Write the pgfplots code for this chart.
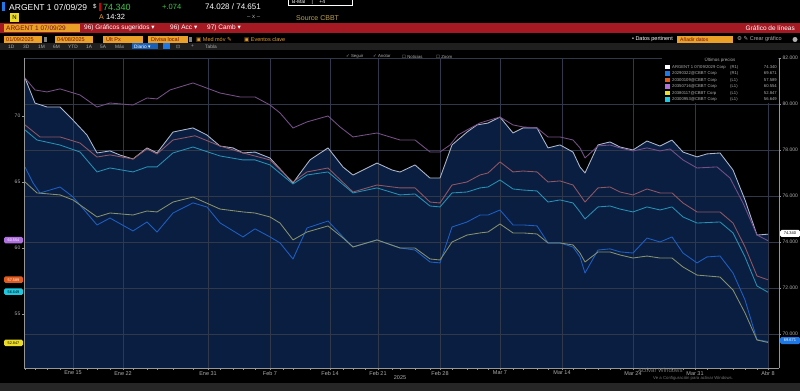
\documentclass[border=0pt]{standalone}
\usepackage{pgfplots}
\pgfplotsset{compat=1.18}
\usepackage{fontspec}
\setmainfont{Liberation Sans}
\newfontfamily\sym{DejaVu Sans}
\newcommand\fs[1]{\fontsize{#1}{#1}\selectfont}
\definecolor{navy}{RGB}{10,30,66}
\definecolor{cwhite}{RGB}{175,185,205}
\definecolor{cblue}{RGB}{30,95,195}
\definecolor{corange}{RGB}{145,88,100}
\definecolor{cpurple}{RGB}{118,80,135}
\definecolor{cyellow}{RGB}{135,145,110}
\definecolor{ccyan}{RGB}{38,145,178}
\definecolor{gridc}{RGB}{48,56,74}
\definecolor{axc}{RGB}{150,150,150}
\definecolor{labc}{RGB}{175,175,175}
\definecolor{bbred}{RGB}{165,25,35}
\definecolor{bbor}{RGB}{235,160,40}
\definecolor{bbgreen}{RGB}{60,200,70}
\definecolor{khaki}{RGB}{190,160,80}
\definecolor{tpurple}{RGB}{176,112,224}
\definecolor{torange}{RGB}{225,90,30}
\definecolor{tcyan}{RGB}{30,200,225}
\definecolor{tyellow}{RGB}{235,220,40}
\definecolor{tblue}{RGB}{30,120,230}
\newcommand\tx[5]{\node[anchor=#1,inner sep=0,text=#2,font=\fs{#3}] at (#4) {#5};}
\pgfplotsset{base/.style={at={(24pt,23pt)}, anchor=south west, scale only axis,
  width=755pt, height=310pt, xmin=24, xmax=779}}
\begin{document}
\begin{tikzpicture}[x=1pt,y=1pt]
\fill[black] (0,0) rectangle (800,391);
% ---- header row 1
\fill[tblue] (2,380) rectangle (5,389);
\tx{west}{white}{8.5}{9,384}{ARGENT 1 07/09/29}
\tx{west}{white}{6}{93,385}{\$}
\fill[red!80!black] (99,380) rectangle (100.5,388);
\tx{west}{bbgreen}{9}{103,384}{74.340}
\tx{west}{bbgreen}{7.5}{162,384}{+.074}
\tx{west}{white}{8}{205,384}{74.028 / 74.651}
\draw[white,line width=0.5pt] (288,386) rectangle (352,392);
\tx{west}{white}{5}{292,388.5}{B-Mal \quad | \quad +4}
% ---- header row 2
\fill[tyellow] (10,369) rectangle (19,378);
\tx{center}{black}{6}{14.5,373.5}{N}
\tx{west}{bbor}{7}{99,374}{A}
\tx{west}{white}{7.5}{106,374}{14:32}
\tx{west}{labc}{6}{247,374}{-- x --}
\tx{west}{khaki}{7}{296,373}{Source CBBT}
% ---- red bar
\fill[bbred] (0,358) rectangle (800,368);
\fill[bbor] (4,359) rectangle (80,367);
\tx{west}{bbred!70!black}{6.5}{6,363}{ARGENT 1 07/09/29}
\tx{west}{white}{6.5}{84,363}{96) Gráficos sugeridos {\sym ▾}}
\tx{west}{white}{6.5}{170,363}{96) Acc {\sym ▾}}
\tx{west}{white}{6.5}{207,363}{97) Camb {\sym ▾}}
\tx{east}{white}{6.5}{795,363}{Gráfico de líneas}
% ---- row 4
\fill[bbor] (4,348) rectangle (42,355);
\tx{west}{bbred!70!black}{5.5}{6,351.5}{01/09/2025}
\fill[gray] (43.5,349) rectangle (47,354);
\fill[bbor] (55,348) rectangle (93,355);
\tx{west}{bbred!70!black}{5.5}{57,351.5}{04/08/2025}
\fill[bbor] (103,348) rectangle (143,355);
\tx{west}{bbred!70!black}{5.5}{106,351.5}{Últ Px}
\fill[bbor] (148,348) rectangle (188,355);
\tx{west}{bbred!70!black}{5.5}{151,351.5}{Divisa local}
\fill[gray] (189,349) rectangle (192,354);
\tx{west}{bbor}{5.5}{196,351.5}{{\sym ▣} Med móv {\sym ✎}}
\tx{west}{bbor}{5.5}{244,351.5}{{\sym ▣} Eventos clave}
\tx{east}{white}{5.5}{673,351.5}{• Datos pertinent}
\fill[bbor] (677,348) rectangle (733,355);
\tx{west}{bbred!70!black}{5}{680,351.5}{Añadir datos}
\tx{west}{labc}{5.5}{737,351.5}{{\sym ⚙} {\sym ✎} Crear gráfico}
\fill[labc] (795,351.5) circle (2.5);
% ---- row 5
\fill[black!88!white] (0,341) rectangle (800,348);
\foreach \xx/\ll in {8/1D,23/3D,38/1M,53/6M,68/YTD,86/1A,100/5A,115/Máx}{\tx{west}{labc}{4.8}{\xx,344.5}{\ll}}
\fill[tblue!80!black] (132,341.5) rectangle (158,347.5);
\tx{west}{white}{4.8}{134,344.5}{Diario {\sym ▾}}
\fill[tblue] (163,341.5) rectangle (170,347.5);
\tx{west}{labc}{4.8}{176,344.5}{{\sym ⊡}}
\tx{west}{labc}{4.8}{191,344.5}{+}
\tx{west}{labc}{4.8}{205,344.5}{Tabla}
% ---- row 6
\tx{west}{labc}{4.3}{346,334.5}{{\sym ✓} Seguir}
\tx{west}{labc}{4.3}{373,334.5}{{\sym ✓} Anotar}
\tx{west}{labc}{4.3}{402,334.5}{{\sym ☐} Noticias}
\tx{west}{labc}{4.3}{436,334.5}{{\sym ☐} Zoom}
% ---- bottom strip
\fill[black!85!white] (0,0) rectangle (800,8);

% ===== axis A: fill under ARGENT
\begin{axis}[base, ymin=68.52, ymax=82, hide axis]
\addplot[fill=navy, draw=none] coordinates {(25,68.52) (25,81.13) (35,80.04) (47,79.87) (60,79.87) (73,79.30) (87,78.65) (97,77.87) (110,77.96) (120,77.78) (133,77.61) (147,78.09) (157,77.87) (173,78.78) (193,78.96) (207,78.65) (220,78.17) (233,78.09) (243,77.87) (255,77.91) (270,77.65) (293,76.57) (310,77.57) (328,78.09) (343,77.26) (353,76.91) (377,77.43) (392,77.13) (400,77.04) (415,77.35) (430,76.78) (440,76.78) (452,78.22) (467,78.78) (477,79.09) (488,79.17) (500,79.43) (513,78.74) (523,78.96) (537,78.96) (548,78.09) (560,78.22) (573,77.91) (580,77.26) (585,77.00) (598,78.22) (610,78.35) (620,78.13) (633,78.00) (647,78.39) (660,78.17) (672,78.43) (683,77.91) (697,77.70) (707,77.83) (720,77.87) (733,77.13) (745,75.83) (757,74.30) (768,74.34) (768,68.52)} -- cycle;
\end{axis}

% ===== axis B: right axis R1
\begin{axis}[base, ymin=68.52, ymax=82,
  axis x line*=bottom, axis y line*=right,
  xtick={73,123,208,270,330,378,440,500,562,633,695,768},
  xticklabels={Ene 15,Ene 22,Ene 31,Feb 7,Feb 14,Feb 21,Feb 28,Mar 7,Mar 14,Mar 24,Mar 31,Abr 8},
  minor xtick={25,35,47,60,87,97,110,133,147,157,173,193,220,233,243,255,283,293,310,343,353,365,392,400,415,430,452,467,477,488,513,523,537,548,573,585,598,610,620,647,660,672,683,707,720,733,745,757},
  ytick={70,72,74,76,78,80,82},
  yticklabels={70.000,72.000,74.000,76.000,78.000,80.000,82.000},
  grid=major, grid style={gridc, line width=0.4pt},
  axis line style={axc, line width=0.5pt},
  tick style={axc, line width=0.4pt}, tick align=outside,
  major tick length=2pt, minor tick length=1.5pt,
  xticklabel style={font=\fs{5.5}, text=labc, inner sep=1pt},
  yticklabel style={font=\fs{5}, text=labc, inner sep=1.5pt}]
\addplot[cwhite, line width=0.85pt, line join=round] coordinates {(25,81.13) (35,80.04) (47,79.87) (60,79.87) (73,79.30) (87,78.65) (97,77.87) (110,77.96) (120,77.78) (133,77.61) (147,78.09) (157,77.87) (173,78.78) (193,78.96) (207,78.65) (220,78.17) (233,78.09) (243,77.87) (255,77.91) (270,77.65) (293,76.57) (310,77.57) (328,78.09) (343,77.26) (353,76.91) (377,77.43) (392,77.13) (400,77.04) (415,77.35) (430,76.78) (440,76.78) (452,78.22) (467,78.78) (477,79.09) (488,79.17) (500,79.43) (513,78.74) (523,78.96) (537,78.96) (548,78.09) (560,78.22) (573,77.91) (580,77.26) (585,77.00) (598,78.22) (610,78.35) (620,78.13) (633,78.00) (647,78.39) (660,78.17) (672,78.43) (683,77.91) (697,77.70) (707,77.83) (720,77.87) (733,77.13) (745,75.83) (757,74.30) (768,74.34)};
\addplot[cblue, line width=0.85pt, line join=round] coordinates {(25,77.26) (33,76.57) (40,76.13) (60,76.39) (73,75.96) (97,74.74) (110,75.04) (133,74.48) (147,74.87) (157,74.43) (173,75.26) (193,75.70) (207,75.52) (220,74.83) (243,74.22) (255,74.57) (270,74.22) (280,73.96) (293,73.26) (307,74.61) (328,74.91) (343,74.22) (353,73.78) (377,74.09) (400,73.74) (415,73.65) (430,73.13) (440,73.09) (452,74.65) (467,74.87) (480,75.17) (488,75.17) (500,75.39) (513,74.74) (523,74.74) (537,74.70) (548,73.96) (560,73.96) (573,73.78) (580,73.35) (585,72.65) (598,73.65) (610,73.70) (620,73.57) (633,73.52) (647,74.17) (660,74.00) (672,74.22) (683,73.52) (697,73.09) (707,73.35) (720,73.39) (733,72.65) (745,71.48) (757,69.75) (768,69.671)};
\end{axis}

% ===== axis C: left axis L1
\begin{axis}[base, ymin=50.91, ymax=74.39,
  axis x line=none, axis y line*=left,
  ytick={55,60,65,70}, yticklabels={55,60,65,70},
  axis line style={axc, line width=0.5pt},
  tick style={axc, line width=0.4pt}, tick align=outside, major tick length=2pt,
  yticklabel style={font=\fs{5}, text=labc, inner sep=1.5pt}]
\addplot[cpurple, line width=0.85pt, line join=round] coordinates {(25,72.88) (35,71.97) (47,71.82) (60,72.05) (80,71.59) (97,70.68) (110,70.98) (133,70.83) (147,71.36) (157,71.29) (170,71.97) (193,72.50) (220,71.74) (240,71.44) (255,71.44) (270,70.83) (280,70.23) (293,69.09) (307,69.55) (328,70.00) (340,69.17) (353,68.41) (377,68.71) (400,68.18) (415,68.18) (430,67.27) (440,67.27) (450,67.80) (458,68.56) (467,68.94) (480,69.47) (490,69.70) (500,69.92) (513,69.32) (523,69.17) (537,69.09) (548,68.41) (560,68.41) (573,68.18) (580,67.58) (585,66.82) (598,67.73) (610,67.80) (620,67.58) (633,67.35) (647,67.58) (660,67.35) (670,67.50) (683,66.67) (697,66.06) (717,66.14) (730,65.30) (743,63.41) (757,60.98) (768,60.554)};
\addplot[corange, line width=0.85pt, line join=round] coordinates {(25,69.32) (40,68.41) (60,68.41) (80,67.95) (97,66.89) (110,67.05) (133,66.74) (147,67.50) (157,67.12) (173,68.18) (195,68.50) (220,67.73) (243,67.20) (270,66.67) (293,65.00) (307,65.76) (328,66.06) (353,64.24) (377,64.77) (400,64.55) (415,64.55) (430,63.48) (440,63.41) (452,64.77) (467,65.00) (480,65.53) (488,65.68) (500,66.52) (513,65.76) (523,65.83) (537,65.76) (548,65.00) (560,65.08) (573,64.77) (580,64.02) (585,63.48) (598,64.55) (610,64.62) (620,64.24) (633,64.02) (647,64.47) (660,64.17) (672,64.17) (683,63.41) (697,62.73) (720,62.73) (733,61.89) (745,60.08) (757,57.88) (768,57.589)};
\addplot[ccyan, line width=0.85pt, line join=round] coordinates {(25,68.94) (37,68.18) (60,67.80) (80,67.27) (97,65.76) (110,66.06) (133,65.76) (147,66.14) (157,66.14) (173,67.20) (193,67.65) (220,66.97) (243,66.67) (255,66.67) (270,66.29) (293,64.85) (307,65.53) (328,65.76) (353,64.17) (377,64.55) (400,64.02) (415,64.09) (430,63.18) (440,63.11) (452,64.17) (467,64.24) (480,64.55) (488,64.62) (500,65.15) (513,64.47) (523,64.39) (537,64.32) (548,63.48) (560,63.64) (573,63.41) (580,62.73) (585,62.20) (598,63.11) (610,63.18) (620,62.95) (633,62.73) (647,63.11) (660,62.88) (672,63.11) (683,62.35) (697,61.89) (720,61.97) (733,61.14) (745,59.32) (757,57.12) (768,56.649)};
\addplot[cyellow, line width=0.85pt, line join=round] coordinates {(25,65.00) (37,64.17) (60,64.02) (73,63.64) (97,62.35) (110,62.65) (133,62.50) (147,62.80) (157,62.73) (173,63.48) (193,63.86) (220,62.95) (243,62.73) (255,62.65) (270,62.35) (280,61.89) (293,60.61) (307,61.21) (328,61.67) (343,60.76) (353,60.08) (377,60.61) (400,60.00) (415,60.00) (430,59.17) (440,59.09) (452,60.45) (467,60.98) (480,61.14) (488,61.21) (500,61.82) (513,61.14) (523,61.14) (537,61.06) (548,60.38) (560,60.38) (573,60.23) (580,59.62) (585,58.94) (598,59.70) (610,59.70) (620,59.47) (633,59.24) (647,59.39) (660,59.24) (672,59.24) (683,58.56) (697,57.95) (720,57.80) (733,56.82) (745,55.08) (757,53.03) (768,52.847)};
\end{axis}

% ---- year label and watermark
\tx{center}{labc}{5.5}{400,13}{2025}
\tx{west}{black!55!white}{6}{638,21}{Activar Windows}
\tx{west}{black!55!white}{4.3}{653,12.5}{Ve a Configuración para activar Windows.}

% ---- value tags
\fill[tpurple, rounded corners=1.5pt] (4,147.5) rectangle (23,154);
\tx{center}{white}{3.8}{13.5,150.75}{60.554}
\fill[torange, rounded corners=1.5pt] (4,108) rectangle (23,114.5);
\tx{center}{white}{3.8}{13.5,111.25}{57.589}
\fill[tcyan, rounded corners=1.5pt] (4,96) rectangle (23,102.5);
\tx{center}{black}{3.8}{13.5,99.25}{56.649}
\fill[tyellow, rounded corners=1.5pt] (4,45) rectangle (23,51.5);
\tx{center}{black}{3.8}{13.5,48.25}{52.847}
\fill[white, rounded corners=1.5pt] (780,154) rectangle (800,161);
\tx{center}{black}{4}{790,157.5}{74.340}
\fill[tblue, rounded corners=1.5pt] (780,47) rectangle (800,54);
\tx{center}{white}{4}{790,50.5}{69.671}

% ---- legend
\fill[black] (662,288) rectangle (778,335);
\tx{center}{labc}{4.5}{720,331}{Últimos precios}
\foreach \yy/\cc/\nn/\ax/\vv in {
  324/white/{ARGENT 1 07/09/2029 Corp}/(R1)/74.340,
  317.5/tblue/{20290322@CBBT Corp}/(R1)/69.671,
  311/torange/{20300109@CBBT Corp}/(L1)/57.589,
  304.5/tpurple/{20350716@CBBT Corp}/(L1)/60.554,
  298/tyellow/{20380117@CBBT Corp}/(L1)/52.847,
  291.5/tcyan/{20300953@CBBT Corp}/(L1)/56.649}{
  \fill[\cc] (665,\yy-2.2) rectangle (669.5,\yy+2.2);
  \tx{west}{labc}{4.2}{672,\yy}{\nn}
  \tx{west}{labc}{4.2}{730,\yy}{\ax}
  \tx{east}{labc}{4.2}{777,\yy}{\vv}
}
\pgfresetboundingbox
\path[use as bounding box] (0,0) rectangle (800,391);
\end{tikzpicture}
\end{document}
